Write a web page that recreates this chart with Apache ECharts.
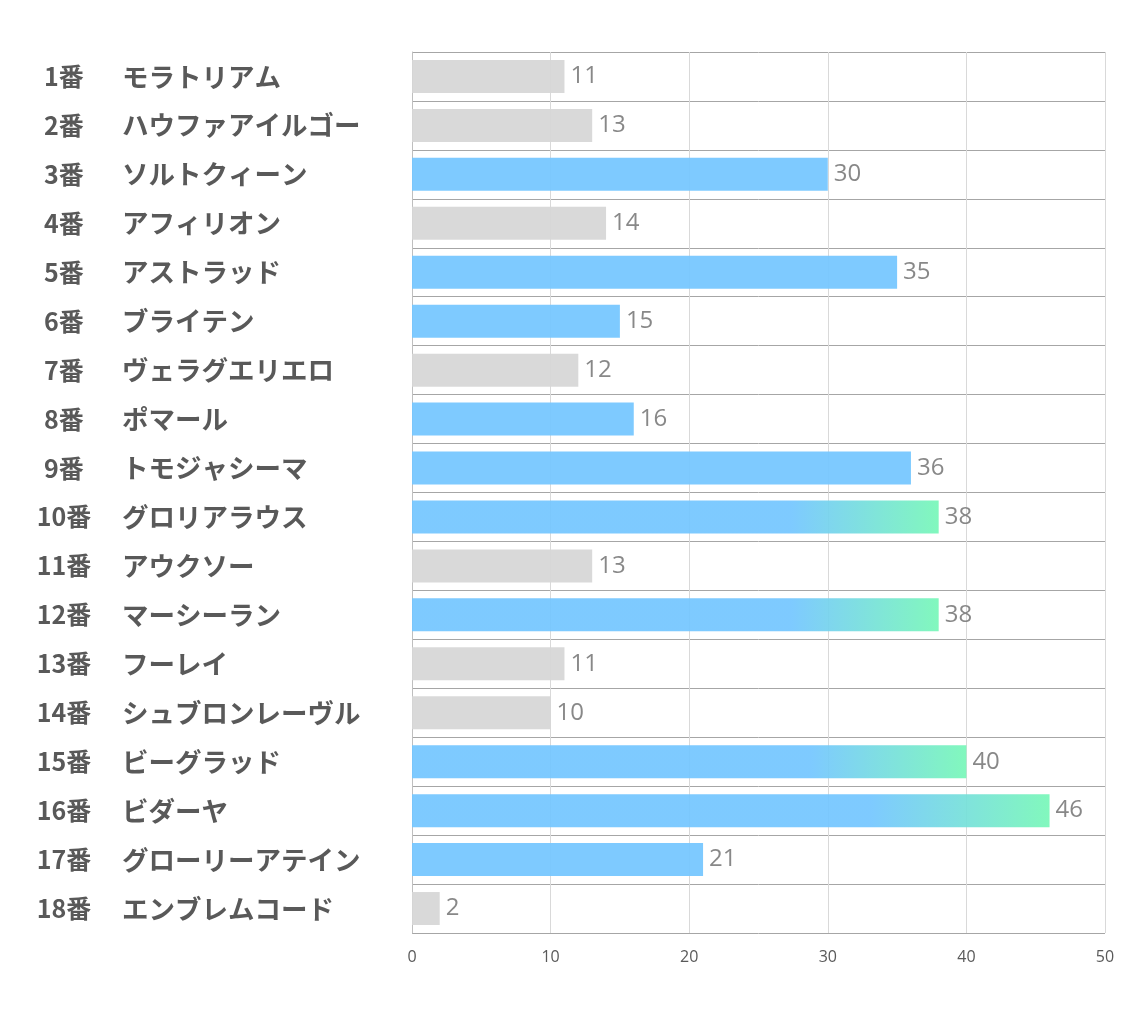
<!DOCTYPE html>
<html><head><meta charset="utf-8">
<script src="https://cdn.jsdelivr.net/npm/echarts@6/dist/echarts.min.js"></script>
<style>html,body{margin:0;padding:0;background:#fff}#c{width:1134px;height:1020px}</style>
</head><body><div id="c"></div>
<script>
const numbers = ['1番','2番','3番','4番','5番','6番','7番','8番','9番','10番','11番','12番','13番','14番','15番','16番','17番','18番'];
const names = ['モラトリアム','ハウファアイルゴー','ソルトクィーン','アフィリオン','アストラッド','ブライテン','ヴェラグエリエロ','ポマール','トモジャシーマ','グロリアラウス','アウクソー','マーシーラン','フーレイ','シュブロンレーヴル','ビーグラッド','ビダーヤ','グローリーアテイン','エンブレムコード'];
const values = [11,13,30,14,35,15,12,16,36,38,13,38,11,10,40,46,21,2];
const xTicks = [0,10,20,30,40,50];

const categories = numbers.map((n,i)=>n+'|'+names[i]);
const GRAY='#d6d6d6', BLUE='#74c6ff', GREEN='#78f7b8';
function colorFor(v){
  if (v < 15) return GRAY;
  if (v < 38) return BLUE;
  return {type:'linear',x:0,y:0,x2:1,y2:0,colorStops:[{offset:0,color:BLUE},{offset:0.72,color:BLUE},{offset:1,color:GREEN}]};
}
const chart = echarts.init(document.getElementById('c'));
chart.setOption({
  animation:false,
  grid:{left:412,top:52,width:693,height:881,containLabel:false},
  xAxis:{type:'value',min:xTicks[0],max:xTicks[xTicks.length-1],interval:10,
    axisLine:{show:false},axisTick:{show:false},
    axisLabel:{color:'#595959',fontSize:16,margin:16,fontFamily:'Open Sans, Noto Sans, sans-serif'},
    splitLine:{show:true,lineStyle:{color:'#d9d9d9',width:1}}},
  yAxis:{type:'category',data:categories,inverse:true,
    axisLine:{show:true,lineStyle:{color:'#bfbfbf'}},axisTick:{show:false},
    splitLine:{show:true,lineStyle:{color:'#a6a6a6',width:1}},
    axisLabel:{align:'left',margin:380,
      formatter:function(v){const p=v.split('|');return '{n|'+p[0]+'}{m|'+p[1]+'}';},
      rich:{
        n:{width:64,align:'right',fontSize:25,fontWeight:'bold',color:'#595959',fontFamily:'Noto Sans CJK JP'},
        m:{padding:[0,0,0,26],fontSize:26.5,fontWeight:'bold',color:'#595959',fontFamily:'Noto Sans CJK JP'}
      }}},
  series:[{type:'bar',barWidth:33,
    data:values.map(v=>({value:v,itemStyle:{color:colorFor(v),opacity:0.93}})),
    label:{show:true,position:'right',distance:6,color:'#7f7f7f',fontSize:24,fontFamily:'Open Sans, Noto Sans, sans-serif'}}]
});
</script></body></html>
